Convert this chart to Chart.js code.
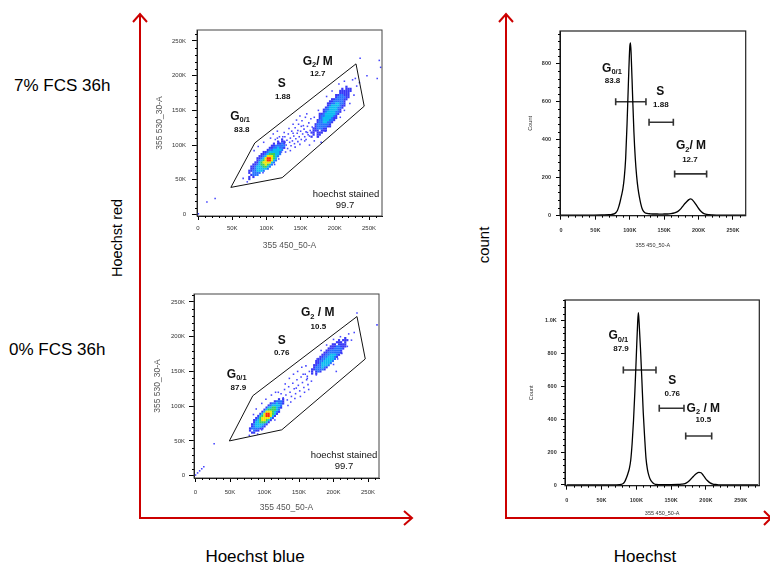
<!DOCTYPE html>
<html><head><meta charset="utf-8">
<script src="https://cdn.jsdelivr.net/npm/chart.js@4.4.1/dist/chart.umd.min.js"></script>
<style>
html,body{margin:0;padding:0;background:#fff;width:770px;height:565px;overflow:hidden;font-family:"Liberation Sans",Arial,Helvetica,sans-serif}
canvas{position:absolute}
.lbl{position:absolute;color:#000;white-space:nowrap;line-height:1}
svg{position:absolute;left:0;top:0}
</style></head><body>
<canvas id="s1" width="250" height="240" style="left:140px;top:20px"></canvas>
<canvas id="s2" width="250" height="238" style="left:140px;top:284px"></canvas>
<canvas id="h1" width="255" height="239" style="left:505px;top:21px"></canvas>
<canvas id="h2" width="265" height="240" style="left:505px;top:290px"></canvas>

<div class="lbl" style="left:14px;top:77px;font-size:17px">7% FCS 36h</div>
<div class="lbl" style="left:9px;top:341px;font-size:17px">0% FCS 36h</div>
<div class="lbl" style="left:117px;top:238px;font-size:14.5px;transform:translate(-50%,-50%) rotate(-90deg)">Hoechst red</div>
<div class="lbl" style="left:483px;top:245px;font-size:15px;transform:translate(-50%,-50%) rotate(-90deg)">count</div>
<div class="lbl" style="left:255px;top:556px;font-size:17px;transform:translate(-50%,-50%)">Hoechst blue</div>
<div class="lbl" style="left:645px;top:556px;font-size:17px;transform:translate(-50%,-50%)">Hoechst</div>

<svg width="770" height="565">
 <g stroke="#cc0000" stroke-width="2" fill="none">
  <path d="M140,518 L140,14 M133,22 L140,14 L147,22"/>
  <path d="M139,518 L412,518 M404,511 L412,518 L404,525"/>
  <path d="M506,518 L506,14 M499,22 L506,14 L513,22"/>
  <path d="M505,518 L771,518 M764,511 L771,518 L764,525"/>
 </g>
</svg>

<script>
// ================= DATA =================
const SCATTER_TICKS = [0, 50, 100, 150, 200, 250];            // thousands
const SCATTER_TICK_LABELS = ['0', '50K', '100K', '150K', '200K', '250K'];
const HIST_X_TICKS = [0, 50, 100, 150, 200, 250];
const HIST_X_TICK_LABELS = ['0', '50K', '100K', '150K', '200K', '250K'];
const HIST7_Y_TICKS = [0, 200, 400, 600, 800];
const HIST7_Y_TICK_LABELS = ['0', '200', '400', '600', '800'];
const HIST0_Y_TICKS = [0, 200, 400, 600, 800, 1000];
const HIST0_Y_TICK_LABELS = ['0', '200', '400', '600', '800', '1.0K'];

const conditions = ['7% FCS 36h', '0% FCS 36h'];
const pct7 = ['83.8', '1.88', '12.7'];   // G0/1, S, G2/M
const pct0 = ['87.9', '0.76', '10.5'];
const stained = '99.7';

// Histogram of 355 450_50-A (x in thousands, counts)
const hist7X = [0,40,60,70,74,78,80,82,84,86,88,90,92,94,96,98,100,101,102,104,106,108,110,112,114,116,118,120,122,125,130,135,140,145,150,155,160,165,170,174,178,182,186,188,190,194,198,202,206,210,215,220,230,250,268];
const hist7Count = [0,0,1,2,4,8,14,25,45,72,104,140,200,300,480,700,890,911,850,640,440,300,205,140,95,60,34,20,13,9,7,6,6,5,6,6,8,12,20,33,52,68,82,86,84,68,46,26,12,5,2,1,0,0,0];
const hist0X = [0,40,60,70,76,80,82,84,86,88,90,92,94,96,98,100,102,103,104,106,108,110,112,114,116,118,120,122,124,126,128,132,140,150,160,165,170,174,178,182,186,190,193,196,199,202,206,210,214,218,225,250,275];
const hist0Count = [0,0,0,1,2,6,12,25,45,70,100,150,250,390,570,780,990,1046,990,830,640,440,290,160,95,58,35,22,12,6,3,2,2,2,3,5,9,18,34,52,68,77,74,60,42,27,13,6,3,1,0,0,0];

// histogram range gates [from, to] (thousands)
const hist7Ranges = [[79.5,123.5],[128,163.3],[165.2,211.7]];
const hist0Ranges = [[81.4,128.3],[133,168.5],[171,208.3]];

// scatter gates (355 450_50-A, 355 530_30-A) in thousands
const s7Gate = [[48,39],[83,103],[231,217],[243,156],[123,53]];
const s0Gate = [[49,50],[83,115],[234,229],[246,168],[125,66]];

// density grids: cell = 3K, char = density level (1 low .. 6 high)
const CELL = 3;
const s7G1Origin = [66, 108];
const s7G1Rows = [
"...................1..",
".................1.11.",
"...............1.1121.",
"..............1122222.",
".............11223221.",
"............12233332..",
"..........112333332...",
".........1123444332...",
"........1123555432....",
".......1123566543.....",
".......1234566532.....",
"......1134555532......",
".....1123445432.......",
"....1123334432........",
"....112333332.........",
"...11223332...........",
"...1.2222.............",
"....1222..............",
"...1.1................",
"...1.................."];
const s7G2Origin = [160, 184];
const s7G2Rows = [
"...................1....",
".................1.111..",
"................111111..",
"................11111...",
"..............1122111...",
"..............1222211...",
"............11222211....",
"...........11222221.....",
"..........112233221.....",
"..........123333211.....",
".........123333221......",
"........122333321.......",
"........123333221.......",
"......1123333321........",
"......122333321.........",
"......123333211.........",
".....122333221..........",
".....12233221...........",
"....12222221............",
"....12222211............",
"...1122211..............",
"...111.111..............",
"..11.111................",
"...1.11.................",
"..1..1.................."];
const s0G1Origin = [70, 110];
const s0G1Rows = [
".................1.1",
"...............12221",
".............1223221",
"............1233332.",
"...........13344321.",
"..........13444432..",
".........135554321..",
"........135665431...",
".......134566531....",
"......124555531.....",
".....123455431......",
".....13344431.......",
"....12333321........",
"....1233321.........",
"...1222211..........",
"...1.211............",
"....11.............."];
const s0G2Origin = [160, 198];
const s0G2Rows = [
"...................1.",
"................1.111",
"...............111.1.",
".............11.1111.",
"............11122111.",
"...........11122221..",
"..........11222221...",
".........112222221...",
"........112233321....",
".......112233321.....",
"......112233332......",
".....112233332.......",
".....11233332........",
"....11223332.........",
"....1222321..........",
"...1122221...........",
"...1.121.............",
"...1.1..............."];

// isolated events (thousands)
const s7Sparse = [
[0.5,1],[13,18],[25,23],[237,225],[247,200],[262,196],[267,212],[265,222],
[118,104],[121,99],[123,108],[124,96],[126,103],[127,112],[129,100],[130,107],[131,95],[132,116],[134,104],[135,110],[136,99],[137,120],[138,106],[140,113],[141,102],[142,125],[143,109],[145,117],[146,105],[147,130],[148,112],[150,120],[151,108],[152,135],[153,116],[155,123],[156,112],[157,140],[158,119],[160,127],[161,115],[162,132],[164,121],[165,138],[167,126],[126,118],[133,124],[139,130],[144,136],[149,142],[154,128],[159,145],[128,90],[135,92],[142,97],[149,101],[156,106],[163,113],[119,112],[116,110],[113,108],[139,117],[151,127],[146,121],
[66,52],[72,47],[95,60],[112,72],[118,80],[122,90],[82,92],[88,98],[96,104],[106,110],[110,116],[116,120],[124,112],[127,104],
[158,108],[163,100],[170,106],[176,112],[180,104],[186,120],[208,140],[214,150],[222,160],[228,172],[232,185],[226,194],[214,192],[206,188],[196,178],[188,170],[230,196],[236,190],[170,140],[176,150],[160,118]];
const s0Sparse = [
[0,1],[3,4],[6,7],[9,10],[12,13],[27,46],[234,234],[263,217],
[124,118],[127,112],[129,124],[131,116],[133,109],[135,128],[137,120],[139,114],[141,133],[143,125],[145,118],[147,138],[149,130],[151,122],[153,142],[155,134],[157,127],[159,146],[161,138],[163,131],[165,150],[130,132],[136,140],[142,146],[148,150],[154,156],[160,158],[126,104],[134,101],[144,111],[152,114],[158,120],[164,124],[120,120],[138,106],[146,126],[162,143],
[78,58],[90,60],[96,66],[115,80],[120,92],[124,100],[96,104],[102,110],[110,116],[116,120],[88,96],[84,88],
[162,140],[168,136],[175,145],[200,160],[206,168],[212,176],[220,186],[226,195],[222,204],[210,200],[200,196],[190,188],[182,180],[176,168],[156,146],[230,206],[204,150]];

// ================= STYLE / LAYOUT =================
const FONT = '"Liberation Sans", Arial, Helvetica, sans-serif';
const LEVEL_COLORS = ['#3838f6', '#2472ff', '#0cbcf0', '#36cf5c', '#eee600', '#ff2a00'];
const SPARSE_COLOR = '#4545ff';

// bar heights (counts)
const hist7BarLevel = [600, 491, 218];
const hist0BarLevel = [698, 466, 297];

const G01 = [['G','big'],['0/1','sub']];
const s7Labels = [
  {x: 61.4, y: 142.4, parts: G01},
  {x: 63.9, y: 122.8, parts: [[pct7[0],'num']]},
  {x: 122.4, y: 190.5, parts: [['S','big']]},
  {x: 123.8, y: 171.2, parts: [[pct7[1],'num']]},
  {x: 175, y: 222.2, parts: [['G','big'],['2','sub'],['/ M','big']]},
  {x: 175, y: 203.5, parts: [[pct7[2],'num']]},
  {x: 216.4, y: 29.5, parts: [['hoechst stained','plain']]},
  {x: 215, y: 13.7, parts: [[stained,'plain']]}
];
const s0Labels = [
  {x: 59.7, y: 147.3, parts: G01},
  {x: 62.0, y: 127.2, parts: [[pct0[0],'num']]},
  {x: 124.9, y: 196.3, parts: [['S','big']]},
  {x: 124.9, y: 178.4, parts: [[pct0[1],'num']]},
  {x: 177.1, y: 235.5, parts: [['G','big'],['2','sub'],[' / M','big']]},
  {x: 178, y: 215.4, parts: [[pct0[2],'num']]},
  {x: 215.2, y: 29.8, parts: [['hoechst stained','plain']]},
  {x: 215.2, y: 14, parts: [[stained,'plain']]}
];
const h7Labels = [
  {x: 74.1, y: 780, parts: G01},
  {x: 74.9, y: 712, parts: [[pct7[0],'num']]},
  {x: 144.3, y: 657, parts: [['S','big']]},
  {x: 145.2, y: 585, parts: [[pct7[1],'num']]},
  {x: 189, y: 371, parts: [['G','big'],['2','sub'],['/ M','big']]},
  {x: 187.4, y: 297, parts: [[pct7[2],'num']]}
];
const h0Labels = [
  {x: 74.1, y: 911, parts: G01},
  {x: 78, y: 830, parts: [[pct0[0],'num']]},
  {x: 151.7, y: 642, parts: [['S','big']]},
  {x: 151.7, y: 560, parts: [[pct0[1],'num']]},
  {x: 196.3, y: 472, parts: [['G','big'],['2','sub'],[' / M','big']]},
  {x: 196.3, y: 399, parts: [[pct0[2],'num']]}
];

// ================= DRAWING =================
const FONTS = {big: 'bold 12px ' + FONT, sub: 'bold 7.5px ' + FONT, num: 'bold 8px ' + FONT, plain: '9.5px ' + FONT};
const FSIZE = {big: 12, sub: 7.5, num: 8, plain: 9.5};
function drawParts(ctx, cx, cy, parts) {
  let total = 0; const ws = [];
  parts.forEach(([t, k]) => { ctx.font = FONTS[k]; const w = ctx.measureText(t).width; ws.push(w); total += w; });
  const main = Math.max(...parts.map(p => p[1] === 'sub' ? 0 : FSIZE[p[1]]));
  const base = cy + main * 0.36;
  let x = cx - total / 2;
  ctx.textAlign = 'left'; ctx.textBaseline = 'alphabetic';
  parts.forEach(([t, k], i) => { ctx.font = FONTS[k]; ctx.fillText(t, x, k === 'sub' ? base + 2.5 : base); x += ws[i]; });
}

const decorPlugin = {
  id: 'decor',
  afterDraw(chart, args, o) {
    const ctx = chart.ctx, a = chart.chartArea, xs = chart.scales.x, ys = chart.scales.y;
    ctx.save();
    ctx.strokeStyle = o.frameColor; ctx.lineWidth = o.frameWidth;
    ctx.strokeRect(a.left, a.top, a.right - a.left, a.bottom - a.top);
    ctx.strokeStyle = '#000'; ctx.lineWidth = 1;
    const mx = new Set(xs.ticks.map(t => t.value)), my = new Set(ys.ticks.map(t => t.value));
    ctx.beginPath();
    for (let k = Math.ceil(xs.min / o.minorX); k * o.minorX <= xs.max; k++) {
      const v = k * o.minorX; if (mx.has(v)) continue;
      const p = Math.round(xs.getPixelForValue(v)) + 0.5;
      ctx.moveTo(p, a.bottom); ctx.lineTo(p, a.bottom + o.minorLen);
    }
    for (let k = Math.ceil(ys.min / o.minorY); k * o.minorY <= ys.max; k++) {
      const v = k * o.minorY; if (my.has(v)) continue;
      const p = Math.round(ys.getPixelForValue(v)) + 0.5;
      ctx.moveTo(a.left, p); ctx.lineTo(a.left - o.minorLen, p);
    }
    ctx.stroke();
    ctx.fillStyle = '#111';
    o.labels.forEach(l => drawParts(ctx, xs.getPixelForValue(l.x), ys.getPixelForValue(l.y), l.parts));
    ctx.restore();
  }
};

function axis(c) {
  return {
    type: 'linear', min: c.min, max: c.max,
    afterBuildTicks: s => { s.ticks = c.ticks.map(v => ({value: v})); },
    afterFit: s => { if (c.size.w) s.width = c.size.w; else s.height = c.size.h; },
    ticks: {
      autoSkip: false, maxRotation: 0, minRotation: 0, padding: c.tickPad, color: '#333',
      font: {size: c.tickSize, family: FONT, weight: c.tickBold ? 'bold' : 'normal'},
      callback: (v, i) => c.labels[i]
    },
    grid: {drawOnChartArea: false, drawTicks: true, tickLength: c.tickLen, tickColor: '#000', tickWidth: 1},
    border: {display: true, color: '#000', width: 1},
    title: {display: true, text: c.title, color: c.titleColor, font: {size: c.titleSize, family: FONT},
            padding: c.titlePad}
  };
}

function gridCells(rows, origin, level) {
  const out = [];
  rows.forEach((r, j) => {
    for (let i = 0; i < r.length; i++) if (r[i] === String(level)) out.push({x: origin[0] + CELL * i, y: origin[1] - CELL * j});
  });
  return out;
}

function scatterChart(id, g, layout) {
  const datasets = [];
  datasets.push({data: g.gate.concat([g.gate[0]]).map(([x, y]) => ({x, y})), showLine: true,
    borderColor: '#111', borderWidth: 1, pointRadius: 0, fill: false, order: 0});
  for (let L = 6; L >= 1; L--) {
    const pts = gridCells(g.g1Rows, g.g1Origin, L).concat(gridCells(g.g2Rows, g.g2Origin, L));
    datasets.push({data: pts, pointStyle: 'rect', pointRadius: 1.55, pointBackgroundColor: LEVEL_COLORS[L - 1],
      pointBorderWidth: 0, showLine: false, order: 7 - L});
  }
  datasets.push({data: g.sparse.map(([x, y]) => ({x, y})), pointStyle: 'rect', pointRadius: 1.1,
    pointBackgroundColor: SPARSE_COLOR, pointBorderWidth: 0, showLine: false, order: 8});
  new Chart(document.getElementById(id), {
    type: 'scatter',
    data: {datasets},
    options: {
      responsive: false, devicePixelRatio: 1, animation: false, events: [],
      layout: {padding: layout.padding, autoPadding: false},
      plugins: {legend: {display: false}, tooltip: {enabled: false},
        decor: {frameColor: '#444', frameWidth: 1, minorX: 10, minorY: 10, minorLen: 2, labels: g.labels}},
      scales: {
        x: axis({min: layout.x[0], max: layout.x[1], ticks: SCATTER_TICKS, labels: SCATTER_TICK_LABELS,
          size: {h: layout.xh}, tickPad: layout.xPad, tickSize: 6, tickLen: 4, title: '355 450_50-A',
          titleColor: '#555', titleSize: 8.5, titlePad: {top: 0, bottom: layout.xTitlePad}}),
        y: axis({min: layout.y[0], max: layout.y[1], ticks: SCATTER_TICKS, labels: SCATTER_TICK_LABELS,
          size: {w: layout.yw}, tickPad: layout.yPad, tickSize: 6, tickLen: 5, title: '355 530_30-A',
          titleColor: '#555', titleSize: 8.5, titlePad: {top: layout.yTitlePad, bottom: 0}})
      }
    },
    plugins: [decorPlugin]
  });
}

function histChart(id, h, layout) {
  const datasets = [{data: h.x.map((v, i) => ({x: v, y: h.count[i]})), borderColor: '#000', borderWidth: 1.3,
    pointRadius: 0, cubicInterpolationMode: 'monotone', fill: false}];
  h.ranges.forEach((r, k) => datasets.push({
    data: [{x: r[0], y: h.levels[k]}, {x: r[1], y: h.levels[k]}], borderColor: '#333', borderWidth: 1.6,
    pointStyle: 'line', pointRotation: 90, pointRadius: 3.5, pointBorderWidth: 1.6, pointBorderColor: '#333', fill: false}));
  new Chart(document.getElementById(id), {
    type: 'line',
    data: {datasets},
    options: {
      responsive: false, devicePixelRatio: 1, animation: false, events: [],
      layout: {padding: layout.padding, autoPadding: false},
      plugins: {legend: {display: false}, tooltip: {enabled: false},
        decor: {frameColor: '#222', frameWidth: 1.2, minorX: 10, minorY: 40, minorLen: 2, labels: h.labels}},
      scales: {
        x: axis({min: layout.x[0], max: layout.x[1], ticks: HIST_X_TICKS, labels: HIST_X_TICK_LABELS,
          size: {h: layout.xh}, tickPad: layout.xPad, tickSize: 5.5, tickBold: true, tickLen: 4, title: '355 450_50-A',
          titleColor: '#333', titleSize: 5.5, titlePad: {top: 0, bottom: layout.xTitlePad}}),
        y: axis({min: layout.y[0], max: layout.y[1], ticks: h.yTicks, labels: h.yLabels,
          size: {w: layout.yw}, tickPad: layout.yPad, tickSize: 5.5, tickBold: true, tickLen: 4, title: 'Count',
          titleColor: '#333', titleSize: 5.5, titlePad: {top: layout.yTitlePad, bottom: 0}})
      }
    },
    plugins: [decorPlugin]
  });
}

scatterChart('s1', {gate: s7Gate, g1Rows: s7G1Rows, g1Origin: s7G1Origin, g2Rows: s7G2Rows, g2Origin: s7G2Origin,
  sparse: s7Sparse, labels: s7Labels},
  {padding: {top: 10, right: 8, left: 0, bottom: 0}, x: [-1.5, 269], y: [-2.2, 265.8], xh: 44, yw: 57,
   xPad: 5, yPad: 6, xTitlePad: 9, yTitlePad: 15});
scatterChart('s2', {gate: s0Gate, g1Rows: s0G1Rows, g1Origin: s0G1Origin, g2Rows: s0G2Rows, g2Origin: s0G2Origin,
  sparse: s0Sparse, labels: s0Labels},
  {padding: {top: 10, right: 11, left: 0, bottom: 0}, x: [-2.2, 265.9], y: [-3.3, 261.4], xh: 44, yw: 54,
   xPad: 6.5, yPad: 4, xTitlePad: 9.6, yTitlePad: 13});
histChart('h1', {x: hist7X, count: hist7Count, ranges: hist7Ranges, levels: hist7BarLevel, labels: h7Labels,
  yTicks: HIST7_Y_TICKS, yLabels: HIST7_Y_TICK_LABELS},
  {padding: {top: 10, right: 14.3, left: 0, bottom: 0}, x: [-1.45, 268.5], y: [-3, 974], xh: 44.3, yw: 55,
   xPad: 7.5, yPad: 5, xTitlePad: 11.7, yTitlePad: 21.7});
histChart('h2', {x: hist0X, count: hist0Count, ranges: hist0Ranges, levels: hist0BarLevel, labels: h0Labels,
  yTicks: HIST0_Y_TICKS, yLabels: HIST0_Y_TICK_LABELS},
  {padding: {top: 10, right: 10.7, left: 0, bottom: 0}, x: [-2.4, 276.7], y: [-4.25, 1123], xh: 44.3, yw: 60,
   xPad: 7.5, yPad: 4.3, xTitlePad: 13.7, yTitlePad: 22.7});
</script>
</body></html>
